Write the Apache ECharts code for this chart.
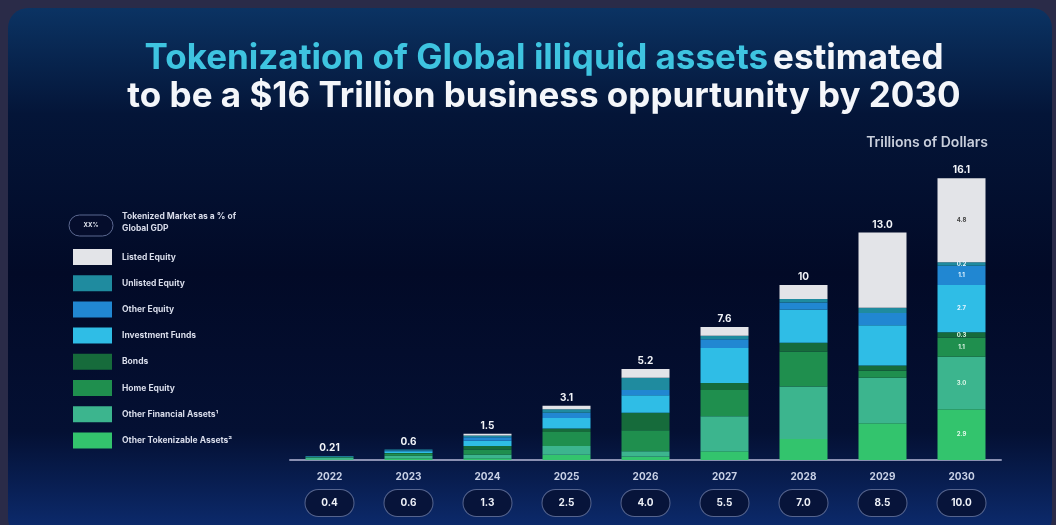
<!DOCTYPE html>
<html>
<head>
<meta charset="utf-8">
<style>
html,body{margin:0;padding:0;background:#2a2b48;}
#c{width:1056px;height:525px;}
</style>
<script src="https://cdn.jsdelivr.net/npm/echarts@6/dist/echarts.min.js"></script>
</head>
<body>
<div id="c"></div>
<script>
const years = ['2022','2023','2024','2025','2026','2027','2028','2029','2030'];
const totalLabels = ['0.21','0.6','1.5','3.1','5.2','7.6','10','13.0','16.1'];
const gdpPct = ['0.4','0.6','1.3','2.5','4.0','5.5','7.0','8.5','10.0'];

const otherTokenizable = [0.05, 0.10, 0.10, 0.3, 0.2, 0.5, 1.2, 2.1, 2.9];
const otherFinancial   = [0.10, 0.15, 0.20, 0.5, 0.3, 2.0, 3.0, 2.6, 3.0];
const homeEquity       = [0.04, 0.10, 0.30, 0.8, 1.2, 1.5, 2.0, 0.4, 1.1];
const bonds            = [0.00, 0.05, 0.20, 0.2, 1.0, 0.4, 0.5, 0.3, 0.3];
const investmentFunds  = [0.02, 0.10, 0.30, 0.6, 1.0, 2.0, 1.9, 2.3, 2.7];
const otherEquity      = [0.00, 0.05, 0.20, 0.3, 0.3, 0.5, 0.4, 0.7, 1.1];
const unlistedEquity   = [0.00, 0.05, 0.10, 0.2, 0.7, 0.2, 0.2, 0.3, 0.2];
const listedEquity     = [0.00, 0.00, 0.10, 0.2, 0.5, 0.5, 0.8, 4.3, 4.8];

const seriesDefs = [
  {name:'Other Tokenizable Assets\u00b2', data: otherTokenizable, color:'#33c46d', lc:'#dff7e8'},
  {name:'Other Financial Assets\u00b9', data: otherFinancial, color:'#3cb58e', lc:'#dff7e8'},
  {name:'Home Equity', data: homeEquity, color:'#1f8f4e', lc:'#dff7e8'},
  {name:'Bonds', data: bonds, color:'#166b3b', lc:'#dff7e8'},
  {name:'Investment Funds', data: investmentFunds, color:'#2fbde6', lc:'#e6f6ff'},
  {name:'Other Equity', data: otherEquity, color:'#2187d2', lc:'#e6f6ff'},
  {name:'Unlisted Equity', data: unlistedEquity, color:'#1f8b9f', lc:'#e6f6ff'},
  {name:'Listed Equity', data: listedEquity, color:'#e3e4e8', lc:'#444'}
];

const totals = years.map((_, i) => seriesDefs.reduce((s, d) => s + d.data[i], 0));

const chart = echarts.init(document.getElementById('c'));

const series = seriesDefs.map(d => ({
  name: d.name,
  type: 'bar',
  stack: 'total',
  barWidth: 48,
  data: d.data,
  itemStyle: {color: d.color},
  label: {
    show: true,
    position: 'inside',
    fontSize: 6,
    fontWeight: 'bold',
    fontFamily: 'Inter',
    color: d.lc,
    formatter: p => (p.dataIndex === 8 ? p.value.toFixed(1) : '')
  },
  emphasis: {disabled: true}
}));

series.push({
  name: 'totals',
  type: 'line',
  data: totals,
  symbol: 'circle',
  symbolSize: 2,
  showSymbol: true,
  itemStyle: {color: 'rgba(0,0,0,0)'},
  lineStyle: {opacity: 0},
  silent: true,
  label: {
    show: true,
    position: 'top',
    distance: 2,
    fontSize: 10,
    fontWeight: 'bold',
    fontFamily: 'Inter',
    color: '#f2f4f8',
    formatter: p => totalLabels[p.dataIndex]
  },
  z: 5
});

chart.setOption({
  backgroundColor: '#2a2b48',
  animation: false,
  graphic: [
    {
      type: 'rect',
      z: -10,
      shape: {x: 8, y: 8, width: 1044, height: 530, r: 20},
      style: {
        fill: new echarts.graphic.LinearGradient(0, 0, 0, 1, [
          {offset: 0, color: '#0b3363'},
          {offset: 0.2, color: '#041538'},
          {offset: 0.5, color: '#020a27'},
          {offset: 0.8, color: '#041033'},
          {offset: 1, color: '#0d2d72'}
        ])
      }
    },
    {
      type: 'rect',
      z: -9,
      shape: {x: 69, y: 215, width: 44, height: 21, r: 10.5},
      style: {fill: '#050d2c', stroke: '#5b6890', lineWidth: 1}
    },
    {
      type: 'text',
      z: 10,
      style: {x: 91, y: 225.5, text: 'XX%', fill: '#e0e4ee', fontSize: 6, fontWeight: 'bold', fontFamily: 'Inter', align: 'center', verticalAlign: 'middle'}
    },
    {
      type: 'text',
      z: 10,
      style: {x: 122, y: 210, text: 'Tokenized Market as a % of\nGlobal GDP', fill: '#d8dcea', fontSize: 8.5, lineHeight: 12, fontWeight: 'bold', fontFamily: 'Inter'}
    },
    {
      type: 'text',
      z: 10,
      style: {x: 988, y: 143, text: 'Trillions of Dollars', fill: '#c9cfdc', fontSize: 14, fontWeight: 600, fontFamily: 'Inter', align: 'right', verticalAlign: 'middle'}
    }
  ],
  title: {
    text: '{a|Tokenization of Global illiquid assets} {b|estimated}\n{b|to be a $16 Trillion business oppurtunity by 2030}',
    left: 539,
    textAlign: 'center',
    top: 34,
    textStyle: {
      align: 'center',
      rich: {
        a: {fontSize: 35, fontWeight: 'bold', fontFamily: 'Inter', color: '#3ec4e0', lineHeight: 38},
        b: {fontSize: 35, fontWeight: 'bold', fontFamily: 'Inter', color: '#f4f6fa', lineHeight: 38}
      }
    }
  },
  legend: {
    data: ['Listed Equity','Unlisted Equity','Other Equity','Investment Funds','Bonds','Home Equity','Other Financial Assets\u00b9','Other Tokenizable Assets\u00b2'],
    orient: 'vertical',
    left: 68,
    top: 244,
    icon: 'rect',
    itemWidth: 39,
    itemHeight: 16,
    itemGap: 10.2,
    textStyle: {color: '#d8dcea', fontSize: 8.5, fontWeight: 'bold', fontFamily: 'Inter', padding: [0, 0, 0, 5]}
  },
  grid: {left: 290, right: 55, top: 145, bottom: 65},
  xAxis: {
    type: 'category',
    data: years,
    axisTick: {show: false},
    axisLine: {lineStyle: {color: '#8a90b2', width: 2}},
    axisLabel: {
      margin: 16,
      formatter: (v, i) => '{y|' + v + '}\n{p|' + gdpPct[i] + '}',
      rich: {
        y: {color: '#c9d1e6', fontSize: 10, fontWeight: 'bold', fontFamily: 'Inter', lineHeight: 14, padding: [0, 0, 12, 0]},
        p: {color: '#eef1f8', fontSize: 10, fontWeight: 'bold', fontFamily: 'Inter', width: 30, align: 'center',
            padding: [8, 9], borderColor: '#55648e', borderWidth: 1, borderRadius: 13, backgroundColor: '#07143a'}
      }
    }
  },
  yAxis: {
    type: 'value',
    min: 0,
    max: 18,
    show: false,
    splitLine: {show: false}
  },
  series: series
});
</script>
</body>
</html>
